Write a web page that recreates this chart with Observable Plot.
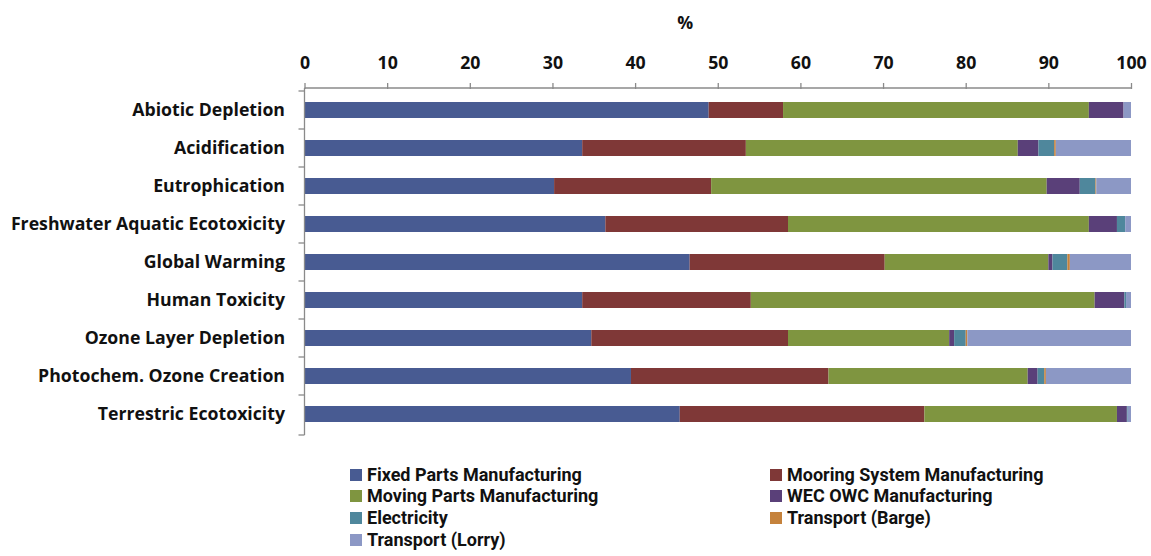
<!DOCTYPE html>
<html>
<head>
<meta charset="utf-8">
<script src="https://cdn.jsdelivr.net/npm/d3@7"></script>
<script src="https://cdn.jsdelivr.net/npm/@observablehq/plot@0.6"></script>
<style>
  html, body { margin: 0; padding: 0; background: #fff; }
  #chart { width: 1151px; font-family: "Open Sans", Lato, sans-serif; }
  .legend {
    display: grid;
    grid-template-columns: 420px 380px;
    margin-left: 350px;
    margin-top: 9px;
    row-gap: 0;
  }
  .legend .item {
    display: flex; align-items: center;
    font: bold 18px/20px Roboto, "Open Sans", sans-serif;
    color: #111; height: 21.6px; white-space: nowrap;
  }
  .legend .sw { width: 12px; height: 12px; margin-right: 5px; flex: none; }
</style>
</head>
<body>
<div id="chart"></div>
<script>
// Impact categories (top to bottom)
const categories = [
  "Abiotic Depletion",
  "Acidification",
  "Eutrophication",
  "Freshwater Aquatic Ecotoxicity",
  "Global Warming",
  "Human Toxicity",
  "Ozone Layer Depletion",
  "Photochem. Ozone Creation",
  "Terrestric Ecotoxicity"
];

// Life-cycle stages (stack order, left to right)
const series = [
  "Fixed Parts Manufacturing",
  "Mooring System Manufacturing",
  "Moving Parts Manufacturing",
  "WEC OWC Manufacturing",
  "Electricity",
  "Transport (Barge)",
  "Transport (Lorry)"
];

const colors = ["#485b92", "#7f3837", "#7f9540", "#5a4079", "#4f879c", "#c5823c", "#8c98c5"];

// Share (%) of each stage, one array per stage, in category order
const fixedParts  = [48.9, 33.6, 30.2, 36.4, 46.6, 33.6, 34.7, 39.5, 45.4];
const mooring     = [ 9.0, 19.8, 19.0, 22.1, 23.6, 20.4, 23.8, 23.9, 29.6];
const movingParts = [37.0, 32.9, 40.6, 36.4, 19.8, 41.6, 19.5, 24.1, 23.3];
const wecOwc      = [ 4.2,  2.5,  4.0,  3.4,  0.5,  3.6,  0.6,  1.2,  1.2];
const electricity = [ 0.0,  1.9,  1.9,  1.0,  1.8,  0.2,  1.4,  0.8,  0.1];
const barge       = [ 0.0,  0.2,  0.1,  0.0,  0.3,  0.0,  0.2,  0.2,  0.0];
const lorry       = [ 0.9,  9.1,  4.2,  0.7,  7.4,  0.6, 19.8, 10.3,  0.4];

const xTicks = [0, 10, 20, 30, 40, 50, 60, 70, 80, 90, 100];

const seriesValues = [fixedParts, mooring, movingParts, wecOwc, electricity, barge, lorry];
const data = [];
series.forEach((s, si) => {
  categories.forEach((c, ci) => {
    data.push({category: c, series: s, value: seriesValues[si][ci]});
  });
});

// Category axis: vertical line with ticks at band boundaries, and the top axis line
function axisLines(index, scales, values, dims) {
  const g = d3.create("svg:g").attr("stroke", "#8a8a8a").attr("stroke-width", 1.3).attr("fill", "none");
  const y = scales.y, x = scales.x;
  const x0 = x(0);
  const yTop = dims.marginTop, yBot = dims.height - dims.marginBottom;
  g.append("line").attr("x1", x0).attr("x2", x0).attr("y1", yTop).attr("y2", yBot);
  g.append("line").attr("x1", x0).attr("x2", x(100)).attr("y1", yTop).attr("y2", yTop);
  const bounds = categories.map(c => y(c) - (y.step() - y.bandwidth()) / 2);
  bounds.push(yBot);
  for (const b of bounds) {
    g.append("line").attr("x1", x0 - 6).attr("x2", x0).attr("y1", b).attr("y2", b);
  }
  return g.node();
}

const plot = Plot.plot({
  width: 1151,
  height: 455,
  marginTop: 88,
  marginBottom: 20,
  marginLeft: 304.5,
  marginRight: 20,
  style: {fontFamily: "'Open Sans', Lato, sans-serif", color: "#111"},
  x: {domain: [0, 100], axis: null},
  y: {domain: categories, padding: 0.585, paddingOuter: 0.2925, align: 0.5, axis: null},
  color: {domain: series, range: colors},
  marks: [
    Plot.barX(data, Plot.stackX({x: "value", y: "category", fill: "series", order: series})),
    Plot.axisX({
      anchor: "top", ticks: xTicks, tickFormat: d => d, tickSize: 6, tickPadding: 14,
      stroke: "#8a8a8a", strokeWidth: 1.3, fontSize: 17.7, fontWeight: "bold", label: null
    }),
    Plot.axisY({
      anchor: "left", tickSize: 0, tickPadding: 20, fontSize: 17.7, fontWeight: "bold", label: null
    }),
    Plot.text(["%"], {frameAnchor: "top", dx: -33, dy: -72, fontSize: 17.7, fontWeight: "bold", fill: "#111"}),
    axisLines
  ]
});

const root = document.getElementById("chart");
root.appendChild(plot);

const legend = document.createElement("div");
legend.className = "legend";
series.forEach((s, i) => {
  const item = document.createElement("div");
  item.className = "item";
  const sw = document.createElement("span");
  sw.className = "sw";
  sw.style.background = colors[i];
  item.appendChild(sw);
  const label = document.createElement("span");
  label.textContent = s;
  item.appendChild(label);
  legend.appendChild(item);
});
root.appendChild(legend);
</script>
</body>
</html>
